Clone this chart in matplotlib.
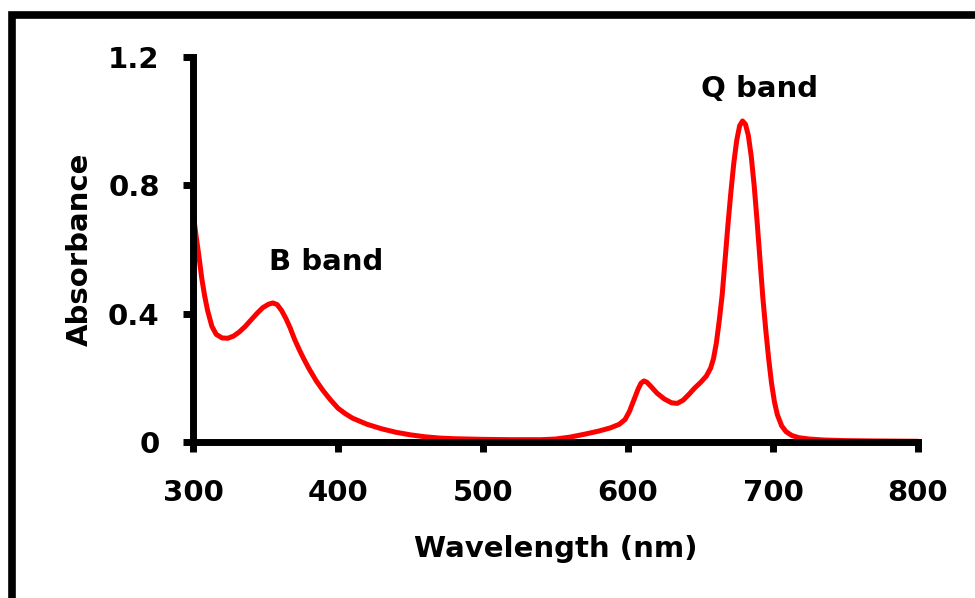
import matplotlib
matplotlib.use("Agg")
import matplotlib.pyplot as plt
from matplotlib.patches import Rectangle

# absorbance spectrum
wavelength = [300, 301, 302, 304, 306, 308, 310, 313, 316, 320, 324, 328, 332, 336, 340,
              344, 348, 352, 355, 358, 361, 364, 367, 370, 373, 376, 380, 385, 390, 395,
              400, 405, 410, 420, 430, 440, 450, 460, 470, 480, 500, 520, 540, 550, 560,
              570, 580, 588, 594, 598, 601, 604, 607, 609, 611, 613, 616, 620, 625, 630,
              634, 638, 642, 646, 650, 654, 657, 659, 661, 663, 665, 667, 669, 671, 673,
              675, 677, 679, 681, 683, 685, 687, 689, 691, 693, 695, 697, 699, 701, 703,
              706, 709, 713, 718, 725, 735, 750, 770, 800]
absorbance = [0.71, 0.68, 0.645, 0.58, 0.51, 0.455, 0.41, 0.36, 0.335, 0.324, 0.323, 0.33, 0.343, 0.36, 0.38,
              0.40, 0.418, 0.429, 0.433, 0.428, 0.41, 0.385, 0.355, 0.32, 0.29, 0.262, 0.228, 0.19, 0.158, 0.13,
              0.105, 0.088, 0.074, 0.055, 0.041, 0.03, 0.022, 0.016, 0.012, 0.010, 0.008, 0.007, 0.007, 0.009, 0.015,
              0.024, 0.034, 0.044, 0.055, 0.07, 0.095, 0.13, 0.165, 0.183, 0.19, 0.186, 0.172, 0.152, 0.134, 0.122,
              0.12, 0.13, 0.148, 0.168, 0.185, 0.205, 0.23, 0.26, 0.31, 0.38, 0.46, 0.57, 0.68, 0.78, 0.87,
              0.94, 0.985, 1.0, 0.99, 0.955, 0.89, 0.8, 0.69, 0.57, 0.45, 0.35, 0.26, 0.183, 0.125, 0.085,
              0.05, 0.032, 0.02, 0.013, 0.009, 0.006, 0.004, 0.003, 0.002]

x_ticks = [300, 400, 500, 600, 700, 800]
y_ticks = [0, 0.4, 0.8, 1.2]
y_tick_labels = ["0", "0.4", "0.8", "1.2"]

plt.rcParams['font.family'] = ['DejaVu Sans']
plt.rcParams['font.weight'] = 'bold'

fig = plt.figure(figsize=(9.75, 5.98), dpi=100)
ax = fig.add_axes([0.198, 0.261, 0.7435, 0.644])

ax.plot(wavelength, absorbance, color='#ff0000', lw=3.6, solid_joinstyle='round', solid_capstyle='round', clip_on=False)

ax.set_xlim(300, 800)
ax.set_ylim(0, 1.2)
ax.set_xticks(x_ticks)
ax.set_yticks(y_ticks)
ax.set_yticklabels(y_tick_labels)

for side in ['top', 'right']:
    ax.spines[side].set_visible(False)
for side in ['left', 'bottom']:
    ax.spines[side].set_linewidth(5)
    ax.spines[side].set_capstyle('projecting')

ax.tick_params(axis='both', direction='out', length=7, width=5, labelsize=21)
ax.tick_params(axis='x', pad=20)
ax.tick_params(axis='y', pad=17)
for lbl in ax.get_xticklabels() + ax.get_yticklabels():
    lbl.set_fontweight('bold')

ax.set_xlabel("Wavelength (nm)", fontsize=21, fontweight='bold', labelpad=20)
ax.set_ylabel("Absorbance", fontsize=21, fontweight='bold', labelpad=10)

ax.text(392, 0.56, "B band", fontsize=21, fontweight='bold', ha='center', va='center')
ax.text(691, 1.10, "Q band", fontsize=21, fontweight='bold', ha='center', va='center')

# thick frame around the picture, running off the right and bottom edges
fig.patches.append(Rectangle((0.0128, -0.5), 2.0, 1.475, transform=fig.transFigure,
                             fill=False, edgecolor='black', lw=5.5, clip_on=False))

fig.savefig("out.png", dpi=100)
